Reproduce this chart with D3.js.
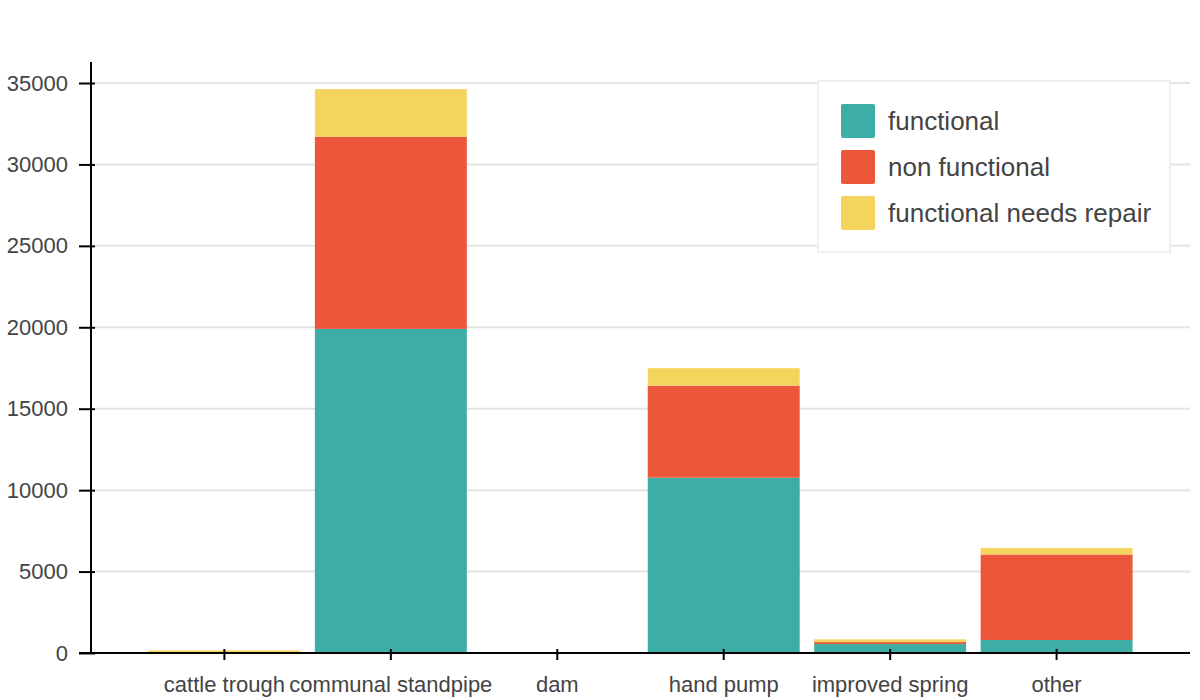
<!DOCTYPE html>
<html>
<head>
<meta charset="utf-8">
<script src="https://cdn.jsdelivr.net/npm/d3@7"></script>
<style>
  html, body { margin: 0; padding: 0; background: #fff; }
  svg { display: block; font-family: "Liberation Sans", Arial, Helvetica, sans-serif; }
</style>
</head>
<body>
<svg id="chart" width="1200" height="700"></svg>
<script>
const categories = ["cattle trough", "communal standpipe", "dam", "hand pump", "improved spring", "other"];
const seriesNames = ["functional", "non functional", "functional needs repair"];
const functional = [10, 19900, 3, 10765, 550, 800];
const nonFunctional = [10, 11800, 2, 5650, 120, 5250];
const needsRepair = [140, 2925, 2, 1075, 170, 400];
const yTicks = [0, 5000, 10000, 15000, 20000, 25000, 30000, 35000];
const colors = ["#3daea5", "#ec563b", "#f5d45e"];

const rows = categories.map((c, i) => ({
  category: c,
  "functional": functional[i],
  "non functional": nonFunctional[i],
  "functional needs repair": needsRepair[i]
}));

const svg = d3.select("#chart");
const left = 91, right = 1190, bottom = 653;

const x = d3.scaleBand().domain(categories).range([left, right]).paddingInner(0.087).paddingOuter(0.345);
const y = d3.scaleLinear().domain([0, 35000]).range([bottom, 83]);
const color = d3.scaleOrdinal().domain(seriesNames).range(colors);

// gridlines
svg.append("g").selectAll("line").data(yTicks.filter(d => d > 0)).join("line")
  .attr("x1", left + 4).attr("x2", right)
  .attr("y1", d => y(d)).attr("y2", d => y(d))
  .attr("stroke", "#e4e4e4").attr("stroke-width", 2);

// bars
const stack = d3.stack().keys(seriesNames);
const series = stack(rows);
svg.append("g").selectAll("g").data(series).join("g")
  .attr("fill", d => color(d.key))
  .selectAll("rect").data(d => d).join("rect")
  .attr("x", d => x(d.data.category))
  .attr("width", x.bandwidth())
  .attr("y", d => y(d[1]))
  .attr("height", d => y(d[0]) - y(d[1]));

// y axis
const yAxis = svg.append("g").attr("transform", `translate(${left},0)`)
  .call(d3.axisLeft(y).tickValues(yTicks).tickFormat(d3.format("d")).tickSize(12).tickPadding(11).tickSizeOuter(0));
yAxis.select(".domain").remove();
yAxis.selectAll(".tick line").attr("x2", 4).attr("x1", -12).attr("stroke", "#000").attr("stroke-width", 2);
yAxis.selectAll(".tick text").attr("font-size", 22).attr("fill", "#444");
svg.append("line").attr("x1", left).attr("x2", left).attr("y1", 62).attr("y2", bottom)
  .attr("stroke", "#000").attr("stroke-width", 2);

// x axis
const xAxis = svg.append("g").attr("transform", `translate(0,${bottom})`)
  .call(d3.axisBottom(x).tickSize(7).tickPadding(16).tickSizeOuter(0));
xAxis.select(".domain").remove();
xAxis.selectAll(".tick line").attr("y1", -4).attr("y2", 7).attr("stroke", "#000").attr("stroke-width", 2);
xAxis.selectAll(".tick text").attr("font-size", 22).attr("fill", "#444");
svg.append("line").attr("x1", left - 12).attr("x2", right).attr("y1", bottom).attr("y2", bottom)
  .attr("stroke", "#000").attr("stroke-width", 2);

// legend
const lg = svg.append("g");
lg.append("rect").attr("x", 818).attr("y", 81).attr("width", 352).attr("height", 171)
  .attr("fill", "#fff").attr("stroke", "#ebebeb").attr("stroke-width", 1.5);
const items = lg.selectAll("g.item").data(seriesNames).join("g").attr("class", "item")
  .attr("transform", (d, i) => `translate(841,${104 + i * 46})`);
items.append("rect").attr("width", 34).attr("height", 34).attr("rx", 2)
  .attr("fill", d => color(d));
items.append("text").attr("x", 47).attr("y", 17).attr("dy", "0.35em")
  .attr("font-size", 26).attr("fill", "#444").text(d => d);
</script>
</body>
</html>
